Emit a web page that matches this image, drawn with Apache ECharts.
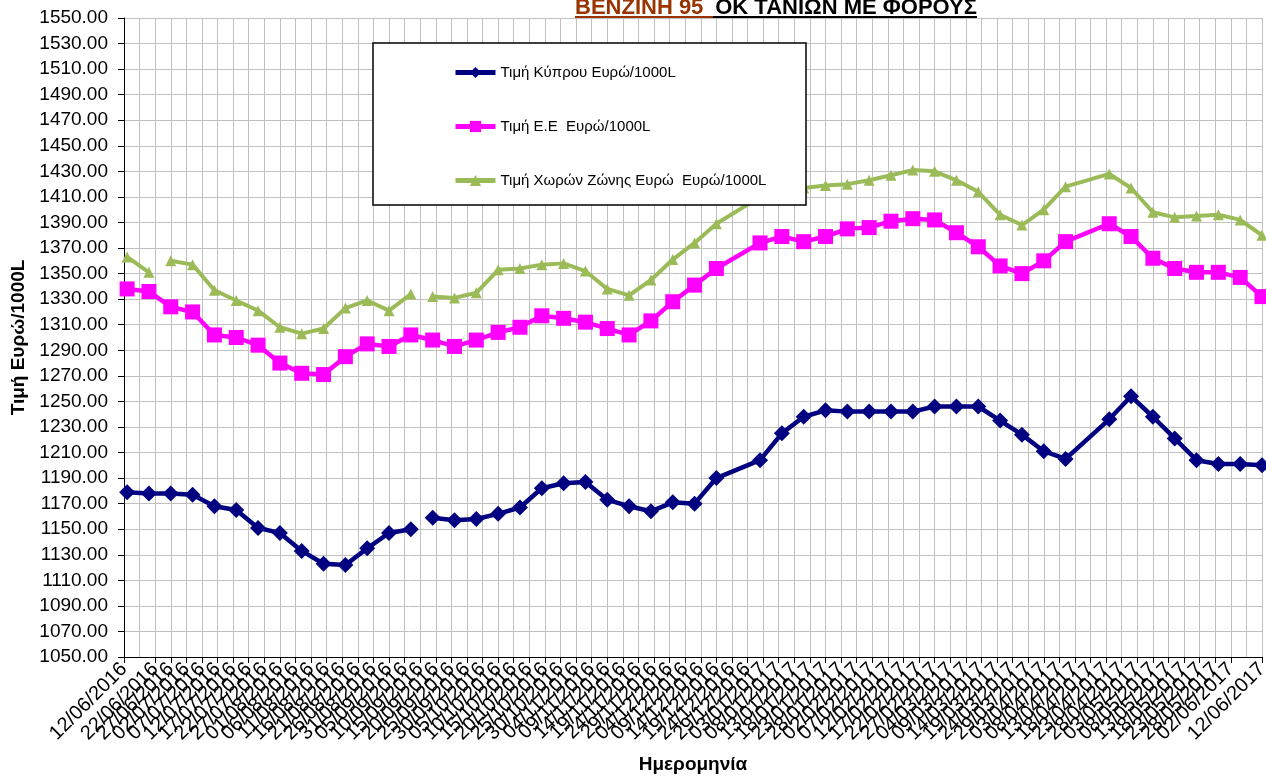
<!DOCTYPE html>
<html><head><meta charset="utf-8">
<script src="https://cdn.jsdelivr.net/npm/echarts@6/dist/echarts.min.js"></script>
<style>html,body{margin:0;padding:0;background:#fff}#c{width:1266px;height:776px}</style>
</head><body><div id="c"></div>
<script>
// 'na' = not available (line connects over it), null = empty cell (line breaks)
const NA = 'na';
const dates = ['13/06/2016','20/06/2016','23/06/2016','27/06/2016','04/07/2016','11/07/2016','18/07/2016','25/07/2016','01/08/2016','08/08/2016','15/08/2016','22/08/2016','29/08/2016','05/09/2016','12/09/2016','15/09/2016','19/09/2016','26/09/2016','03/10/2016','10/10/2016','17/10/2016','24/10/2016','31/10/2016','07/11/2016','14/11/2016','21/11/2016','28/11/2016','05/12/2016','12/12/2016','19/12/2016','02/01/2017','09/01/2017','16/01/2017','23/01/2017','30/01/2017','06/02/2017','13/02/2017','20/02/2017','27/02/2017','06/03/2017','13/03/2017','20/03/2017','27/03/2017','03/04/2017','10/04/2017','24/04/2017','01/05/2017','08/05/2017','15/05/2017','22/05/2017','29/05/2017','05/06/2017','12/06/2017'];
const cyprus = [1179,1178,NA,1178,1177,1168,1165,1151,1147,1133,1123,1122,1135,1147,1150,null,1159,1157,1158,1162,1167,1182,1186,1187,1173,1168,1164,1171,1170,1190,1204,1225,1238,1243,1242,1242,1242,1242,1246,1246,1246,1235,1224,1211,1205,1236,1254,1238,1221,1204,1201,1201,1200];
const eu = [1338,1336,NA,1324,1320,1302,1300,1294,1280,1272,1271,1285,1295,1293,1302,NA,1298,1293,1298,1304,1308,1317,1315,1312,1307,1302,1313,1328,1341,1354,1374,1379,1375,1379,1385,1386,1391,1393,1392,1382,1371,1356,1350,1360,1375,1389,1379,1362,1354,1351,1351,1347,1332];
const zone = [1363,1351,null,1360,1357,1337,1329,1321,1308,1303,1307,1323,1329,1321,1334,null,1332,1331,1335,1353,1354,1357,1358,1352,1338,1333,1345,1361,1374,1389,1410,1415,1417,1419,1420,1423,1427,1431,1430,1423,1414,1396,1388,1400,1418,1428,1417,1398,1394,1395,1396,1392,1380];
const seriesNames = ['Τιμή Κύπρου Ευρώ/1000L','Τιμή Ε.Ε  Ευρώ/1000L','Τιμή Χωρών Ζώνης Ευρώ  Ευρώ/1000L'];
const axisStart = '12/06/2016', axisEnd = '12/06/2017', dayStep = 5;
const yMin = 1050, yMax = 1550, yStep = 20;
const titlePart1 = 'ΒΕΝΖΙΝΗ 95 ', titlePart2 = 'ΟΚ ΤΑΝΙΩΝ ΜΕ ΦΟΡΟΥΣ';
const yName = 'Τιμή Ευρώ/1000L', xName = 'Ημερομηνία';

function parseD(s){const [d,m,y]=s.split('/').map(Number);return Date.UTC(y,m-1,d);}
const t0 = parseD(axisStart);
function dayOf(s){return Math.round((parseD(s)-t0)/86400000);}
function fmtDay(v){const dt=new Date(t0+v*86400000);const p=n=>String(n).padStart(2,'0');return p(dt.getUTCDate())+'/'+p(dt.getUTCMonth()+1)+'/'+dt.getUTCFullYear();}
function build(vals){const out=[];dates.forEach((d,i)=>{if(vals[i]!==NA)out.push([dayOf(d),vals[i]]);});return out;}

const FONT = "'Liberation Sans', Arial, sans-serif";
const chart = echarts.init(document.getElementById('c'), null, {renderer:'canvas'});
chart.setOption({
  animation:false,
  backgroundColor:'#fff',
  textStyle:{fontFamily:FONT},
  grid:{left:124,right:4,top:18,bottom:119,containLabel:false,outerBoundsMode:'none'},
  xAxis:{type:'value',min:0,max:dayOf(axisEnd),interval:dayStep,
    name:xName,nameLocation:'middle',nameGap:98,
    nameTextStyle:{fontSize:19,fontWeight:'bold',color:'#000',fontFamily:FONT},
    axisLine:{show:true,lineStyle:{color:'#000',width:1}},
    axisTick:{show:true,length:6,lineStyle:{color:'#000'}},
    axisLabel:{rotate:45,fontSize:20,color:'#000',margin:9,fontFamily:FONT,showMinLabel:true,showMaxLabel:true,formatter:v=>fmtDay(v)},
    splitLine:{show:true,lineStyle:{color:'#c0c0c0',width:1}}},
  yAxis:{type:'value',min:yMin,max:yMax,interval:yStep,
    name:yName,nameLocation:'middle',nameGap:96,
    nameTextStyle:{fontSize:19,fontWeight:'bold',color:'#000',fontFamily:FONT},
    axisLine:{show:true,lineStyle:{color:'#000',width:1}},
    axisTick:{show:true,length:6,lineStyle:{color:'#000'}},
    axisLabel:{fontSize:19,color:'#000',margin:16,fontFamily:FONT,formatter:v=>v.toFixed(2)},
    splitLine:{show:true,lineStyle:{color:'#c0c0c0',width:1}}},
  legend:{orient:'vertical',left:448,top:60,itemWidth:40,itemHeight:14,itemGap:39,z:10,
    selectedMode:false,textStyle:{fontSize:15,color:'#000',fontFamily:FONT},
    lineStyle:{width:5},
    data:seriesNames},
  graphic:[
    {type:'rect',z:5,shape:{x:373,y:43,width:433,height:162},style:{fill:'#fff',stroke:'#000',lineWidth:1.5}},
    {type:'text',z:5,style:{x:575,y:8,text:titlePart1,fill:'#993300',font:"bold 22px "+FONT,verticalAlign:'middle',align:'left'}},
    {type:'text',z:5,style:{x:977,y:8,text:titlePart2,fill:'#000',font:"bold 22px "+FONT,verticalAlign:'middle',align:'right'}},
    {type:'line',z:5,shape:{x1:575,y1:17,x2:713,y2:17},style:{stroke:'#993300',lineWidth:2}},
    {type:'line',z:5,shape:{x1:713,y1:17,x2:977,y2:17},style:{stroke:'#000',lineWidth:2}}
  ],
  series:[
    {name:seriesNames[0],type:'line',data:build(cyprus),symbol:'diamond',symbolSize:16,
      lineStyle:{color:'#000080',width:4.5},itemStyle:{color:'#000080'},connectNulls:false},
    {name:seriesNames[1],type:'line',data:build(eu),symbol:'rect',symbolSize:15,
      lineStyle:{color:'#ff00ff',width:4.5},itemStyle:{color:'#ff00ff'},connectNulls:false},
    {name:seriesNames[2],type:'line',data:build(zone),symbol:'triangle',symbolSize:11,
      lineStyle:{color:'#9bbb59',width:4},itemStyle:{color:'#9bbb59'},connectNulls:false}
  ]
});
</script></body></html>
